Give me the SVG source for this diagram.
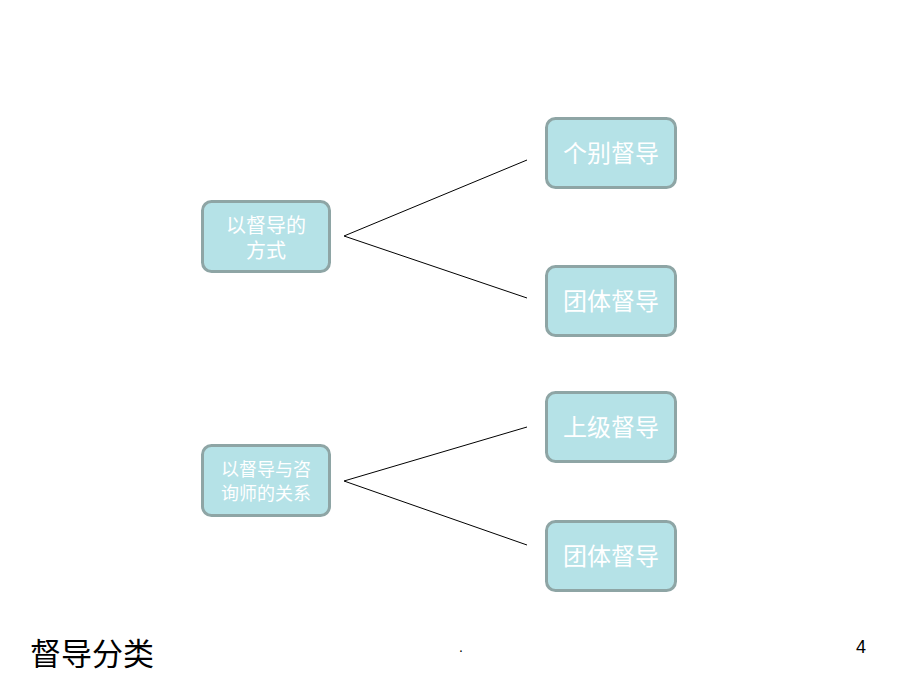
<svg xmlns="http://www.w3.org/2000/svg" width="920" height="690" viewBox="0 0 920 690">
<style>
.box{fill:#b5e2e7;stroke:#8ea5a5;stroke-width:3}
.lbl{fill:#ffffff;font-family:"Liberation Sans","Noto Sans CJK SC",sans-serif;text-anchor:middle}
.big{font-size:24px}
.md{font-size:20px}
.sm{font-size:18px}
.conn line{stroke:#000;stroke-width:1}
</style>
<rect width="920" height="690" fill="#ffffff"/>
<g class="conn">
<line x1="344" y1="236" x2="527" y2="160"/>
<line x1="344" y1="236" x2="527" y2="298"/>
<line x1="344" y1="481" x2="527" y2="427"/>
<line x1="344" y1="481" x2="527" y2="545"/>
</g>
<g id="n1"><rect class="box" x="202.5" y="201.5" width="127" height="70" rx="9"/>
<text class="lbl md" x="266" y="233">以督导的</text><text class="lbl md" x="266" y="258">方式</text></g>
<g id="n2"><rect class="box" x="546.5" y="118.5" width="129" height="69" rx="9"/>
<text class="lbl big" x="611" y="162">个别督导</text></g>
<g id="n3"><rect class="box" x="546.5" y="266.5" width="129" height="69" rx="9"/>
<text class="lbl big" x="611" y="310">团体督导</text></g>
<g id="n4"><rect class="box" x="202.5" y="445.5" width="127" height="70" rx="9"/>
<text class="lbl sm" x="266" y="476">以督导与咨</text><text class="lbl sm" x="266" y="500">询师的关系</text></g>
<g id="n5"><rect class="box" x="546.5" y="392.5" width="129" height="69" rx="9"/>
<text class="lbl big" x="611" y="436">上级督导</text></g>
<g id="n6"><rect class="box" x="546.5" y="521.5" width="129" height="69" rx="9"/>
<text class="lbl big" x="611" y="565">团体督导</text></g>
<text x="30" y="665" font-family="'Liberation Sans','Noto Sans CJK SC',sans-serif" font-size="31" fill="#000">督导分类</text>
<text x="459" y="652" font-family="'Liberation Sans',sans-serif" font-size="14" fill="#000">.</text>
<text x="856" y="653" font-family="'Liberation Sans',sans-serif" font-size="18" fill="#000">4</text>
</svg>
